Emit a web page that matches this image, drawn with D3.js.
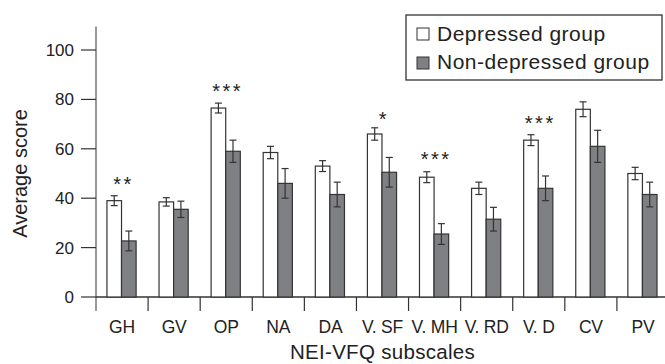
<!DOCTYPE html>
<html lang="en">
<head>
<meta charset="utf-8">
<title>NEI-VFQ subscales</title>
<script src="https://cdn.jsdelivr.net/npm/d3@7"></script>
<style>
  body { margin: 0; background: #fff; }
  text { font-family: "Liberation Sans", Arial, sans-serif; fill: #222; }
</style>
</head>
<body>
<script>
// subscales and group means / error bars
var subscales = ["GH", "GV", "OP", "NA", "DA", "V. SF", "V. MH", "V. RD", "V. D", "CV", "PV"];
var depressed = [39, 38.5, 76.5, 58.5, 53, 66, 48.5, 44, 63.5, 76, 50];
var depressedErr = [2, 1.7, 2, 2.5, 2.2, 2.5, 2.2, 2.5, 2.2, 3, 2.5];
var nonDepressed = [22.7, 35.5, 59, 46, 41.5, 50.5, 25.5, 31.5, 44, 61, 41.5];
var nonDepressedErr = [4, 3.3, 4.5, 6, 5, 6, 4.2, 4.8, 5, 6.5, 5];
var stars = ["**", "", "***", "", "", "*", "***", "", "***", "", ""];
var starLevel = [47.5, 0, 85, 0, 0, 73.5, 57.5, 0, 72, 0, 0];
var yTicks = [0, 20, 40, 60, 80, 100];
var groups = ["Depressed group", "Non-depressed group"];
var colors = ["#ffffff", "#7f8083"];

var W = 665, H = 364;
var svg = d3.select("body").append("svg").attr("width", W).attr("height", H);

var x0 = 96, x1 = 669;
var y = d3.scaleLinear().domain([0, 100]).range([297, 50]);
var x = d3.scaleBand().domain(subscales).range([x0, x1]);
var sub = d3.scaleBand().domain([0, 1]).range([x.bandwidth() * 0.21, x.bandwidth() * 0.77]);

// axes
var ink = "#333";
svg.append("line").attr("x1", x0).attr("x2", x0).attr("y1", y(109.5)).attr("y2", 311)
  .attr("stroke", "#777").attr("stroke-width", 1.5);
svg.append("line").attr("x1", x0).attr("x2", x1).attr("y1", y(0)).attr("y2", y(0))
  .attr("stroke", ink).attr("stroke-width", 1.5);

svg.selectAll(".ytick").data(yTicks).enter().append("line")
  .attr("x1", 81).attr("x2", x0).attr("y1", d => y(d)).attr("y2", d => y(d))
  .attr("stroke", ink).attr("stroke-width", 1.2);
svg.selectAll(".ylab").data(yTicks).enter().append("text")
  .attr("x", 74).attr("y", d => y(d) + 6).attr("text-anchor", "end")
  .attr("font-size", 17).text(d => d);

svg.selectAll(".xtick").data(subscales.slice(1)).enter().append("line")
  .attr("x1", d => x(d)).attr("x2", d => x(d)).attr("y1", y(0)).attr("y2", 311)
  .attr("stroke", ink).attr("stroke-width", 1.2);
svg.selectAll(".xlab").data(subscales).enter().append("text")
  .attr("x", d => x(d) + x.bandwidth() * 0.5).attr("y", 333).attr("text-anchor", "middle")
  .attr("font-size", 17.5).attr("letter-spacing", -0.2).text(d => d);

// bars
var series = [depressed, nonDepressed];
var errs = [depressedErr, nonDepressedErr];
series.forEach(function (vals, g) {
  var gg = svg.append("g");
  gg.selectAll("rect").data(vals).enter().append("rect")
    .attr("x", (d, i) => x(subscales[i]) + sub(g))
    .attr("width", sub.bandwidth())
    .attr("y", d => y(d))
    .attr("height", d => y(0) - y(d))
    .attr("fill", colors[g]).attr("stroke", ink).attr("stroke-width", 1.2);
  vals.forEach(function (v, i) {
    var cx = x(subscales[i]) + sub(g) + sub.bandwidth() / 2;
    var e = errs[g][i];
    gg.append("line").attr("x1", cx).attr("x2", cx).attr("y1", y(v + e)).attr("y2", y(v - e))
      .attr("stroke", ink).attr("stroke-width", 1.2);
    [v + e, v - e].forEach(function (t) {
      gg.append("line").attr("x1", cx - 3.5).attr("x2", cx + 3.5).attr("y1", y(t)).attr("y2", y(t))
        .attr("stroke", ink).attr("stroke-width", 1.2);
    });
  });
});

// significance markers
svg.selectAll(".star").data(subscales).enter().append("text")
  .attr("x", (d, i) => x(d) + sub(0) + sub.bandwidth() + 2)
  .attr("y", (d, i) => y(starLevel[i]) + 11)
  .attr("text-anchor", "middle").attr("font-size", 20).attr("letter-spacing", 2.5)
  .text((d, i) => stars[i]);

// axis titles
svg.append("text").attr("transform", "translate(27," + y(50) + ") rotate(-90)")
  .attr("text-anchor", "middle").attr("font-size", 20).text("Average score");
svg.append("text").attr("x", (x0 + x1) / 2).attr("y", 359).attr("text-anchor", "middle")
  .attr("font-size", 20.5).attr("letter-spacing", 0.3).text("NEI-VFQ subscales");

// legend
var lg = svg.append("g").attr("transform", "translate(406,15)");
lg.append("rect").attr("width", 256).attr("height", 65)
  .attr("fill", "#fff").attr("stroke", ink).attr("stroke-width", 1.3);
groups.forEach(function (name, g) {
  lg.append("rect").attr("x", 11).attr("y", 13 + g * 29).attr("width", 12).attr("height", 12)
    .attr("fill", colors[g]).attr("stroke", ink).attr("stroke-width", 1);
  lg.append("text").attr("x", 31).attr("y", 26 + g * 28).attr("font-size", 21)
    .attr("letter-spacing", 0.5).text(name);
});
</script>
</body>
</html>
